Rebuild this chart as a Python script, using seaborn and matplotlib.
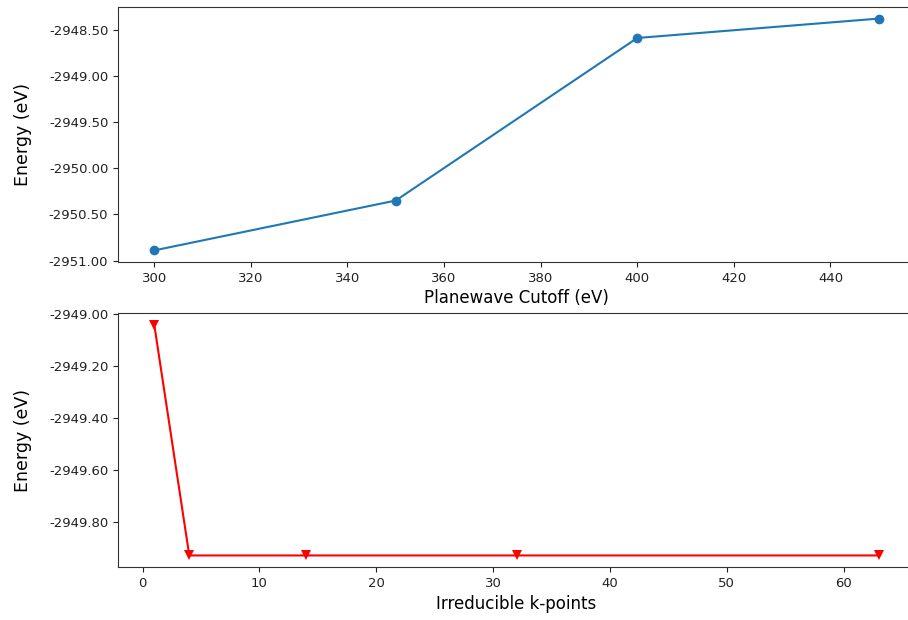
import matplotlib
matplotlib.use("Agg")
import matplotlib.pyplot as plt
import seaborn as sns
import pandas as pd
from matplotlib.ticker import FormatStrFormatter

cutoff = [300, 350, 400, 450]
cutoff_energy = [-2950.89, -2950.35, -2948.59, -2948.38]

kpoints = [1, 4, 14, 32, 63]
kpoint_energy = [-2949.04, -2949.93, -2949.93, -2949.93, -2949.93]

df1 = pd.DataFrame({"cutoff": cutoff, "energy": cutoff_energy})
df2 = pd.DataFrame({"kpoints": kpoints, "energy": kpoint_energy})

plt.rcParams['font.family'] = ['DejaVu Sans']
W, H = 908, 620
fig = plt.figure(figsize=(W / 100, H / 100), dpi=100)
ax1 = fig.add_axes([118 / W, (H - 262) / H, 797 / W, 255 / H])
ax2 = fig.add_axes([118 / W, (H - 567) / H, 797 / W, 254 / H])

sns.lineplot(data=df1, x="cutoff", y="energy", ax=ax1, marker="o", color="#1f77b4",
             markersize=7, markeredgewidth=0, linewidth=1.5)
sns.lineplot(data=df2, x="kpoints", y="energy", ax=ax2, marker="v", color="red",
             markersize=7, markeredgewidth=0, linewidth=1.5)

ax1.set_xlabel("Planewave Cutoff (eV)", fontsize=12, labelpad=3)
ax1.set_ylabel("Energy (eV)", fontsize=12.5, labelpad=12)
ax2.set_xlabel("Irreducible k-points", fontsize=12, labelpad=4)
ax2.set_ylabel("Energy (eV)", fontsize=12.5, labelpad=12)

for ax in (ax1, ax2):
    ax.yaxis.set_major_formatter(FormatStrFormatter("%.2f"))
    ax.tick_params(labelsize=9.5, colors="#222222")
    for s in ax.spines.values():
        s.set_color("#333333")

ax1.set_yticks([-2951.0, -2950.5, -2950.0, -2949.5, -2949.0, -2948.5])
ax2.set_yticks([-2949.8, -2949.6, -2949.4, -2949.2, -2949.0])

fig.savefig("out.png", dpi=100)
